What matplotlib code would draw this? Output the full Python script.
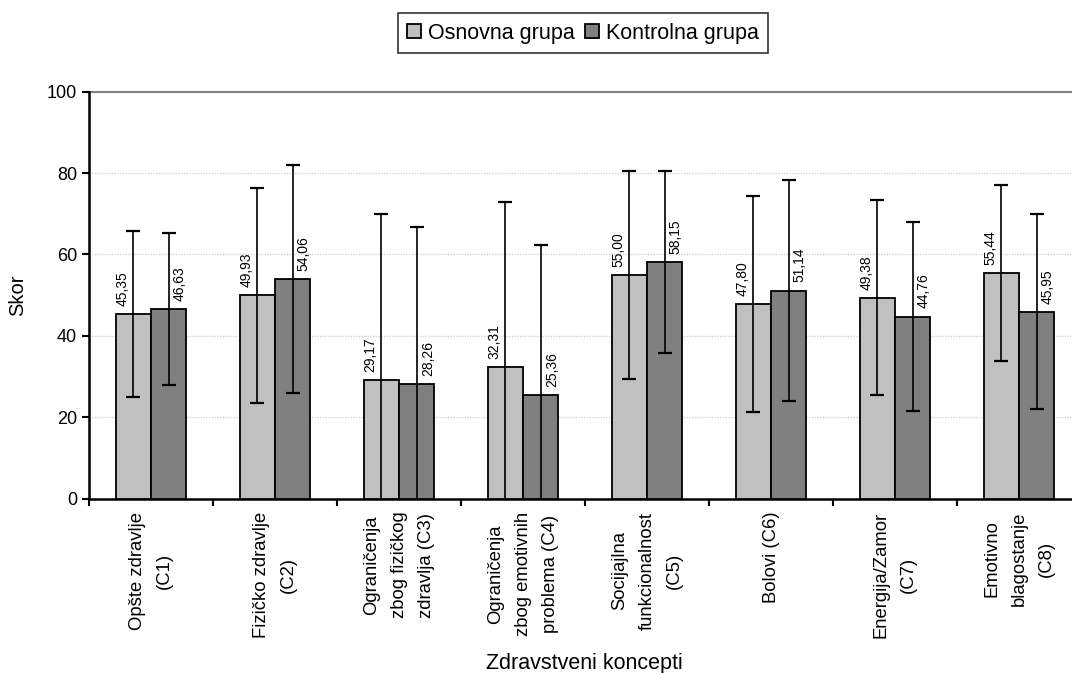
import numpy as np
import matplotlib
matplotlib.use('Agg')
import matplotlib.pyplot as plt

plt.rcParams['font.family'] = ['Liberation Sans', 'DejaVu Sans']

# Data
categories = ['Opšte zdravlje\n(C1)', 'Fizičko zdravlje\n(C2)',
              'Ograničenja\nzbog fizičkog\nzdravlja (C3)',
              'Ograničenja\nzbog emotivnih\nproblema (C4)',
              'Socijajlna\nfunkcionalnost\n(C5)', 'Bolovi (C6)',
              'Energija/Zamor\n(C7)', 'Emotivno\nblagostanje\n(C8)']
osnovna = [45.35, 49.93, 29.17, 32.31, 55.00, 47.80, 49.38, 55.44]
kontrolna = [46.63, 54.06, 28.26, 25.36, 58.15, 51.14, 44.76, 45.95]
osnovna_sd = [20.45, 26.4, 40.8, 40.6, 25.5, 26.5, 24.0, 21.7]
kontrolna_sd = [18.7, 28.0, 38.6, 36.9, 22.3, 27.1, 23.2, 24.0]

fig = plt.figure(figsize=(10.72, 6.73), dpi=100)
# plot area runs past the right edge like the original
ax = fig.add_axes([89 / 1072, 0.259, 992 / 1072, 0.6048])

x = np.arange(len(categories)) + 0.5
w = 0.285
err_kw = dict(ecolor='black', elinewidth=1.2, capsize=5, capthick=1.6)

ax.bar(x - w / 2, osnovna, w, color='#c0c0c0', edgecolor='black', linewidth=1.3,
       yerr=osnovna_sd, error_kw=err_kw, label='Osnovna grupa', zorder=3)
ax.bar(x + w / 2, kontrolna, w, color='#808080', edgecolor='black', linewidth=1.3,
       yerr=kontrolna_sd, error_kw=err_kw, label='Kontrolna grupa', zorder=3)

# value labels
for xi, v in zip(x - w / 2, osnovna):
    ax.text(xi - 0.09, v + 2, f'{v:.2f}'.replace('.', ','), rotation=90,
            ha='center', va='bottom', fontsize=10, zorder=4)
for xi, v in zip(x + w / 2, kontrolna):
    ax.text(xi + 0.09, v + 2, f'{v:.2f}'.replace('.', ','), rotation=90,
            ha='center', va='bottom', fontsize=10, zorder=4)

ax.set_xlim(0, len(categories))
ax.set_ylim(0, 100)
ax.set_yticks(np.arange(0, 101, 20))
ax.tick_params(axis='y', labelsize=13, length=5, width=1.5, direction='out')

ax.set_xticks(np.arange(0, len(categories) + 1))
ax.set_xticklabels([])
ax.tick_params(axis='x', length=5, width=1.5, direction='out')
for xi, lab in zip(x, categories):
    ax.text(xi, -3.2, lab, rotation=90, ha='center', va='top',
            multialignment='center', fontsize=13.3, linespacing=1.8,
            transform=ax.transData, clip_on=False)

for yv in [20, 40, 60, 80]:
    ax.axhline(yv, color='#d4d4d4', linewidth=1, linestyle=(0, (1, 1)), zorder=1)
ax.axhline(100, color='#808080', linewidth=1.5, zorder=1, clip_on=False)

for s in ['top', 'right']:
    ax.spines[s].set_visible(False)
ax.spines['left'].set_linewidth(1.8)
ax.spines['bottom'].set_linewidth(1.8)

ax.set_ylabel('Skor', fontsize=14.5, labelpad=14)
fig.text(584 / 1072, 1 - 663 / 673, 'Zdravstveni koncepti', ha='center',
         va='center', fontsize=15.5)

leg = fig.legend(loc='center', bbox_to_anchor=(583 / 1072, 1 - 33 / 673), ncol=2,
                 fontsize=15.5, frameon=True, fancybox=False, edgecolor='black',
                 handlelength=0.65, handleheight=0.65, handletextpad=0.3,
                 columnspacing=0.5, borderpad=0.45, borderaxespad=0)
leg.get_frame().set_linewidth(1.2)

plt.savefig('out.png', dpi=100)
plt.close()
